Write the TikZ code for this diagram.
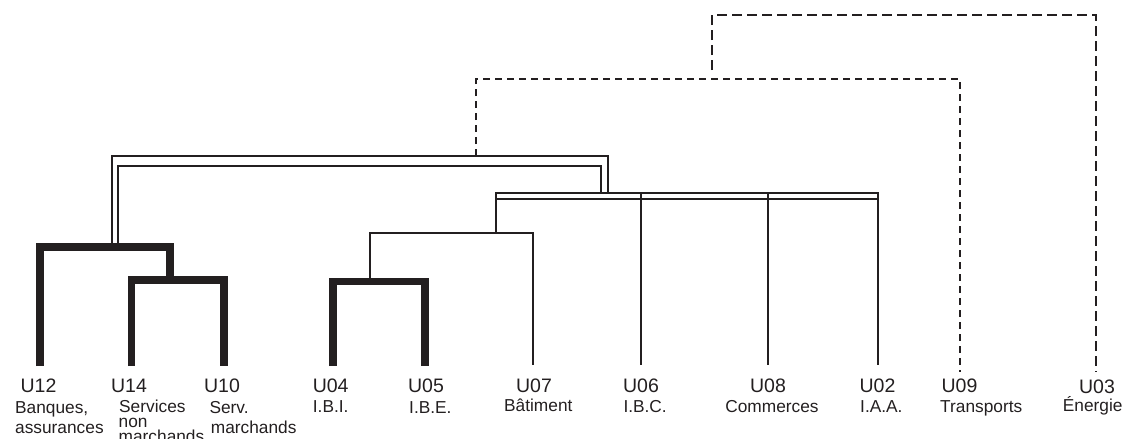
\documentclass[tikz,border=0pt]{standalone}
\usepackage{fontspec}
\setmainfont{Liberation Sans}
\definecolor{ink}{RGB}{35,31,32}
\begin{document}
\begin{tikzpicture}[x=1pt,y=-1pt,
  heavy/.style={draw=ink, line width=7.5pt, line join=miter, line cap=butt},
  plain/.style={draw=ink, line width=1.8pt, line join=miter, line cap=butt},
  dashthin/.style={draw=ink, line width=1.4pt, dash pattern=on 7pt off 5pt},
  dashthick/.style={draw=ink, line width=2.4pt, dash pattern=on 10pt off 5pt},
  code/.style={text=ink, inner sep=0pt, anchor=base, font=\fontsize{19.5}{20}\selectfont},
  desc/.style={text=ink, inner sep=0pt, anchor=base west, font=\fontsize{17.3}{18}\selectfont},
  descc/.style={desc, anchor=base}]
\useasboundingbox (0,0) rectangle (1125,439);

% leaf ends
\coordinate (u12) at (40,366);
\coordinate (u14) at (131.5,366);
\coordinate (u10) at (224,366);
\coordinate (u04) at (333,366);
\coordinate (u05) at (425,366);
\coordinate (u07) at (533,365);
\coordinate (u06) at (641,365);
\coordinate (u08) at (768,365);
\coordinate (u02) at (878,365);
\coordinate (u09) at (960,372);
\coordinate (u03) at (1096,372);

% junctions
\coordinate (j1410) at (170,280);
\coordinate (j12) at (170,247);
\coordinate (j0405) at (370,281.5);
\coordinate (j07) at (370,233);
\coordinate (k07) at (496,233);
\coordinate (barL) at (496,193);
\coordinate (barR) at (878,199);
\coordinate (b06) at (641,193);
\coordinate (b08) at (768,193);
\coordinate (b02) at (878,193);
\coordinate (outL) at (112,243.3);
\coordinate (outR) at (608,193);
\coordinate (inL) at (117.6,243.3);
\coordinate (inR) at (601,193);
\coordinate (top1) at (476,156);
\coordinate (top2) at (476,79);
\coordinate (top3) at (712,70);

% tight clusters
\draw[heavy] (u14) |- (j1410) -| (u10);
\draw[heavy] (u12) |- (j12) -- (j1410);
\draw[heavy] (u04) |- (j0405) -| (u05);

% looser clusters
\draw[plain] (j0405) -- (j07) -| (u07);
\draw[plain] (k07) -- (barL);
\draw[plain] (barL) rectangle (barR);
\draw[plain] (b06) -- (u06);
\draw[plain] (b08) -- (u08);
\draw[plain] (b02) -- (u02);

% nested links
\draw[plain] (outL) |- (outR |- 0,156) -- (outR);
\draw[plain] (inL) |- (inR |- 0,166) -- (inR);

% distant links
\draw[dashthin] (top1) -- (top2) -| (u09);
\draw[dashthick] (top3) |- (u03 |- 0,15) -- (u03);

% labels
\node[code] (t12) at (38.5,392.7) {U12};
\node[desc] (d12a) at (15,413.3) {Banques,};
\node[desc] (d12b) at (15,433) {assurances};
\node[code] (t14) at (129,392.7) {U14};
\node[desc] (d14a) at (119,412.7) {Services};
\node[desc] (d14b) at (118.5,427.3) {non};
\node[desc] (d14c) at (118.5,442) {marchands};
\node[code] (t10) at (222,392.7) {U10};
\node[desc] (d10a) at (209.3,413) {Serv.};
\node[desc] (d10b) at (210.7,433) {marchands};
\node[code] (t04) at (330.7,392.7) {U04};
\node[desc] (d04) at (312.7,412.3) {I.B.I.};
\node[code] (t05) at (426,392.7) {U05};
\node[desc] (d05) at (409,413.3) {I.B.E.};
\node[code] (t07) at (534,392.7) {U07};
\node[descc] (d07) at (538.3,411.7) {Bâtiment};
\node[code] (t06) at (641,392.7) {U06};
\node[desc] (d06) at (623.3,412) {I.B.C.};
\node[code] (t08) at (768,392.7) {U08};
\node[descc] (d08) at (772,412) {Commerces};
\node[code] (t02) at (877.5,392.7) {U02};
\node[desc] (d02) at (860,412) {I.A.A.};
\node[code] (t09) at (959.5,392.7) {U09};
\node[desc] (d09) at (940,412) {Transports};
\node[code] (t03) at (1097,393.3) {U03};
\node[descc] (d03) at (1092.7,411.7) {Énergie};
\end{tikzpicture}
\end{document}
